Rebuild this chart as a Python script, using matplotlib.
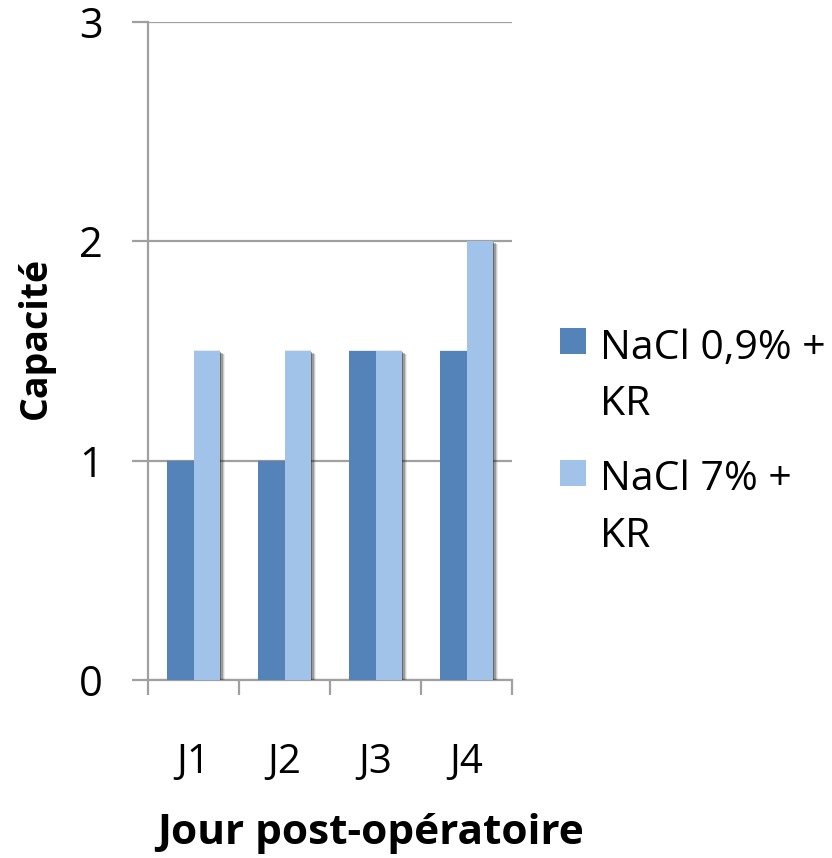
import matplotlib
matplotlib.use("Agg")
import matplotlib.pyplot as plt
import matplotlib.patheffects as pe
from matplotlib.patches import Rectangle
import numpy as np

plt.rcParams['font.family'] = ['Open Sans', 'DejaVu Sans']

days = ["J1", "J2", "J3", "J4"]
series_names = ["NaCl 0,9% +\nKR", "NaCl 7% +\nKR"]
nacl_09 = [1, 1, 1.5, 1.5]
nacl_7 = [1.5, 1.5, 1.5, 2]
colors = ["#5383B9", "#A1C2E9"]
yticks = [0, 1, 2, 3]

W, H = 832, 858
fig = plt.figure(figsize=(W / 100, H / 100), dpi=100)
ax = fig.add_axes([148 / W, 1 - 680 / H, 364 / W, 658 / H])

grid_c = "#A0A0A0"
x = np.arange(len(days))
bw = 0.286

# soft drop shadow: several offset copies with decreasing opacity
shadow = [
    pe.SimplePatchShadow(offset=(0.0, 0.6), shadow_rgbFace="#202020", alpha=0.10),
    pe.SimplePatchShadow(offset=(0.5, -0.3), shadow_rgbFace="#202020", alpha=0.45),
    pe.SimplePatchShadow(offset=(1.3, -0.8), shadow_rgbFace="#202020", alpha=0.40),
    pe.SimplePatchShadow(offset=(2.2, -1.3), shadow_rgbFace="#202020", alpha=0.28),
    pe.SimplePatchShadow(offset=(3.1, -1.8), shadow_rgbFace="#202020", alpha=0.16),
    pe.SimplePatchShadow(offset=(4.0, -2.2), shadow_rgbFace="#202020", alpha=0.08),
    pe.Normal(),
]

for i, (vals, col) in enumerate(zip([nacl_09, nacl_7], colors)):
    bars = ax.bar(x + (i - 0.5) * bw, vals, width=bw, color=col,
                  edgecolor="none", zorder=3 + i)
    for b in bars:
        b.set_path_effects(shadow)

ax.set_xlim(-0.5, len(days) - 0.5)
ax.set_ylim(0, 3)
ax.set_yticks(yticks)
ax.set_yticklabels([str(v) for v in yticks])

ax.set_xticks(np.arange(-0.5, len(days)), minor=False)
ax.set_xticklabels([])
ax.set_xticks(x, minor=True)
ax.set_xticklabels(days, minor=True)

ax.tick_params(axis="x", which="major", length=11, width=1.6, color=grid_c, direction="out")
ax.tick_params(axis="x", which="minor", length=0, pad=45, labelsize=29)
ax.tick_params(axis="y", length=11.5, width=1.6, color=grid_c, direction="out",
               pad=21, labelsize=30)

ax.grid(axis="y", color=grid_c, linewidth=1.6)
ax.grid(axis="x", visible=False)
ax.set_axisbelow(True)
for side in ("top", "right"):
    ax.spines[side].set_visible(False)
for side in ("left", "bottom"):
    ax.spines[side].set_color(grid_c)
    ax.spines[side].set_linewidth(1.6)

fig.text(371 / W, 1 - 833 / H, "Jour post-opératoire", ha="center", va="center",
         fontsize=30.5, fontweight="bold")
fig.text(36 / W, 1 - 338 / H, "Capacité", ha="center", va="center",
         rotation=90, fontsize=27, fontweight="bold")

# legend
legend_rows = [(328, 349, 405), (460, 480, 537)]
for (sq_top, l1, l2), name, col in zip(legend_rows, series_names, colors):
    fig.patches.append(Rectangle((560 / W, 1 - (sq_top + 26) / H), 26 / W, 26 / H,
                                 transform=fig.transFigure, facecolor=col,
                                 edgecolor="none"))
    first, second = name.split("\n")
    fig.text(600 / W, 1 - l1 / H, first, ha="left", va="center", fontsize=29.5)
    fig.text(600 / W, 1 - l2 / H, second, ha="left", va="center", fontsize=29.5)

fig.savefig("out.png", dpi=100, facecolor="white")
